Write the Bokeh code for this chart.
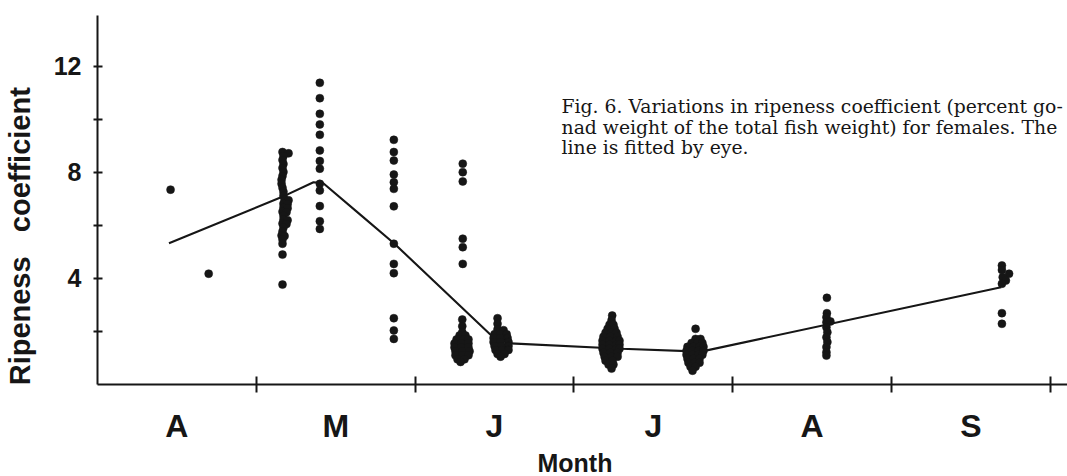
from bokeh.plotting import figure
from bokeh.models import FixedTicker, Range1d, Title, ColumnDataSource
from bokeh.embed import file_html
from bokeh.resources import INLINE
from bokeh.core.properties import value

# ---------------- data ----------------
month_labels = ["A", "M", "J", "J", "A", "S"]
month_centers = [0.5, 1.5, 2.5, 3.5, 4.5, 5.5]
month_bounds = [1, 2, 3, 4, 5, 6]
y_ticks = [2, 4, 6, 8, 10, 12]
y_tick_text = ["", "4", "", "8", "", "12"]

# samples: (month position, ripeness coefficient)
apr = [(0.46, 7.35), (0.70, 4.18)]

may_a = [(1.165, 8.77), (1.203, 8.72), (1.171, 8.62), (1.165, 8.47), (1.171, 8.32),
         (1.165, 8.17), (1.171, 8.02), (1.165, 7.87), (1.159, 7.72), (1.159, 7.57),
         (1.165, 7.42), (1.171, 7.27), (1.171, 7.12), (1.178, 6.97), (1.203, 6.95),
         (1.171, 6.82), (1.197, 6.80), (1.171, 6.67), (1.197, 6.65), (1.165, 6.52),
         (1.190, 6.50), (1.171, 6.37), (1.171, 6.22), (1.197, 6.20), (1.165, 6.07),
         (1.190, 6.05), (1.171, 5.92), (1.165, 5.77), (1.159, 5.62), (1.178, 5.60),
         (1.165, 5.47), (1.165, 5.31), (1.165, 4.90), (1.165, 3.77)]

may_b = [(1.400, 11.38), (1.400, 10.80), (1.400, 10.21), (1.400, 9.81), (1.400, 9.42),
         (1.400, 8.83), (1.400, 8.43), (1.400, 8.14), (1.400, 7.57), (1.400, 7.32),
         (1.400, 6.73), (1.400, 6.16), (1.400, 5.87)]

may_c = [(1.866, 9.23), (1.866, 8.77), (1.866, 8.45), (1.866, 7.92), (1.866, 7.63),
         (1.866, 7.38), (1.866, 6.72), (1.866, 5.31), (1.866, 4.55), (1.866, 4.20),
         (1.866, 2.50), (1.866, 2.04), (1.866, 1.72)]

jun_a = [(2.300, 8.33), (2.300, 8.01), (2.300, 7.66), (2.300, 5.50), (2.300, 5.18),
         (2.300, 4.55), (2.297, 2.45), (2.297, 2.20), (2.297, 1.97),
         (2.280, 1.85), (2.317, 1.85), (2.261, 1.70), (2.305, 1.70), (2.336, 1.70),
         (2.248, 1.55), (2.292, 1.55), (2.336, 1.55), (2.248, 1.40), (2.292, 1.40),
         (2.336, 1.40), (2.254, 1.25), (2.298, 1.25), (2.343, 1.25), (2.254, 1.10),
         (2.298, 1.10), (2.336, 1.10), (2.267, 0.95), (2.311, 0.95), (2.286, 0.85)]

jun_b = [(2.519, 2.50), (2.519, 2.29), (2.519, 2.08), (2.557, 2.05), (2.500, 1.90),
         (2.538, 1.90), (2.576, 1.90), (2.494, 1.75), (2.538, 1.75), (2.582, 1.75),
         (2.494, 1.60), (2.538, 1.60), (2.588, 1.60), (2.500, 1.45), (2.544, 1.45),
         (2.588, 1.45), (2.506, 1.30), (2.550, 1.30), (2.588, 1.30), (2.519, 1.15),
         (2.563, 1.15), (2.538, 1.05)]

jul_a = [(3.241, 2.60), (3.237, 2.42), (3.224, 2.25), (3.249, 2.25), (3.212, 2.10),
         (3.256, 2.10), (3.199, 1.95), (3.237, 1.95), (3.268, 1.95), (3.186, 1.80),
         (3.230, 1.80), (3.275, 1.80), (3.180, 1.65), (3.224, 1.65), (3.268, 1.65),
         (3.287, 1.65), (3.180, 1.50), (3.224, 1.50), (3.268, 1.50), (3.287, 1.50),
         (3.180, 1.35), (3.224, 1.35), (3.268, 1.35), (3.287, 1.35), (3.186, 1.20),
         (3.230, 1.20), (3.275, 1.20), (3.193, 1.05), (3.237, 1.05), (3.275, 1.05),
         (3.199, 0.90), (3.243, 0.90), (3.218, 0.75), (3.249, 0.75), (3.237, 0.60)]

jul_b = [(3.766, 2.10), (3.766, 1.72), (3.797, 1.72), (3.741, 1.57), (3.778, 1.57),
         (3.809, 1.57), (3.715, 1.42), (3.753, 1.42), (3.791, 1.42), (3.816, 1.42),
         (3.709, 1.27), (3.747, 1.27), (3.784, 1.27), (3.816, 1.27), (3.709, 1.12),
         (3.747, 1.12), (3.784, 1.12), (3.809, 1.12), (3.715, 0.97), (3.753, 0.97),
         (3.791, 0.97), (3.721, 0.82), (3.759, 0.82), (3.791, 0.82), (3.734, 0.67),
         (3.766, 0.67), (3.747, 0.52)]

aug = [(4.593, 3.27), (4.593, 2.69), (4.590, 2.54), (4.615, 2.38), (4.590, 2.35),
       (4.590, 2.16), (4.596, 1.97), (4.590, 1.78), (4.596, 1.60), (4.590, 1.41),
       (4.590, 1.22), (4.590, 1.09)]

sep = [(5.695, 4.49), (5.695, 4.32), (5.740, 4.18), (5.700, 4.05), (5.720, 3.92),
       (5.695, 3.80), (5.695, 2.69), (5.695, 2.29)]

# line fitted by eye
fit_x = [0.45, 1.16, 1.36, 1.42, 1.66, 1.87, 2.49, 2.60, 3.30, 3.80, 5.69]
fit_y = [5.33, 7.07, 7.63, 7.60, 6.38, 5.31, 1.79, 1.55, 1.35, 1.24, 3.67]

caption_lines = ["Fig. 6. Variations in ripeness coefficient (percent go-",
                 "nad weight of the total fish weight) for females. The",
                 "line is fitted by eye."]

# ---------------- layout / style ----------------
INK = "#161616"
BOLD_FONT = "Liberation Sans"
NB = "\u00a0"

all_pts = apr + may_a + may_b + may_c + jun_a + jun_b + jul_a + jul_b + aug + sep
src = ColumnDataSource(dict(x=[p_[0] for p_ in all_pts], y=[p_[1] for p_ in all_pts]))

p = figure(width=1067, height=476,
           x_range=Range1d(0, 6.108), y_range=Range1d(0, 13.92),
           output_backend="svg", toolbar_location=None,
           min_border_left=97, min_border_right=0,
           min_border_top=15, min_border_bottom=92)
p.xgrid.visible = False
p.ygrid.visible = False
p.outline_line_color = None
p.background_fill_color = "white"
p.border_fill_color = "white"

p.line(fit_x, fit_y, line_color=INK, line_width=2.1)
p.scatter("x", "y", source=src, size=8, fill_color=INK, line_color=INK, line_width=0.5)

# caption text (inside the plot area)
cap_src = ColumnDataSource(dict(x=[2.922] * 3, y=[10.50, 9.71, 8.93], text=caption_lines))
p.text("x", "y", text="text", source=cap_src, text_font=value("DejaVu Serif"),
       text_font_size="18.8px", text_color=INK, text_baseline="alphabetic", text_align="left")

# x axis
xa = p.xaxis[0]
xa.ticker = FixedTicker(ticks=month_centers, minor_ticks=month_bounds)
xa.major_label_overrides = {c: l for c, l in zip(month_centers, month_labels)}
xa.major_tick_in = 0
xa.major_tick_out = 0
xa.minor_tick_in = 8
xa.minor_tick_out = 8
xa.minor_tick_line_width = 2
xa.minor_tick_line_color = INK
xa.axis_line_width = 2
xa.axis_line_color = INK
xa.major_label_text_font = BOLD_FONT
xa.major_label_text_font_style = "bold"
xa.major_label_text_font_size = "32px"
xa.major_label_text_color = INK
xa.major_label_standoff = 15

# y axis
ya = p.yaxis[0]
ya.ticker = FixedTicker(ticks=y_ticks, minor_ticks=[])
ya.major_label_overrides = {t: s for t, s in zip(y_ticks, y_tick_text)}
ya.major_tick_in = 5
ya.major_tick_out = 4
ya.major_tick_line_width = 2
ya.major_tick_line_color = INK
ya.minor_tick_line_color = None
ya.axis_line_width = 2
ya.axis_line_color = INK
ya.major_label_text_font = BOLD_FONT
ya.major_label_text_font_style = "bold"
ya.major_label_text_font_size = "25px"
ya.major_label_text_color = INK
ya.major_label_standoff = 12
# trailing no-break spaces push the visible words down, as in the original
ya.axis_label = "Ripeness" + NB * 3 + "coefficient" + NB * 9
ya.axis_label_text_font = BOLD_FONT
ya.axis_label_text_font_style = "bold"
ya.axis_label_text_font_size = "29px"
ya.axis_label_text_color = INK
ya.axis_label_standoff = 15

xtitle = Title(text="Month", align="left", offset=440,
               text_font=BOLD_FONT, text_font_style="bold", text_font_size="25px",
               text_color=INK, standoff=0)
p.add_layout(xtitle, "below")

open("out.html", "w").write(file_html(p, INLINE))
